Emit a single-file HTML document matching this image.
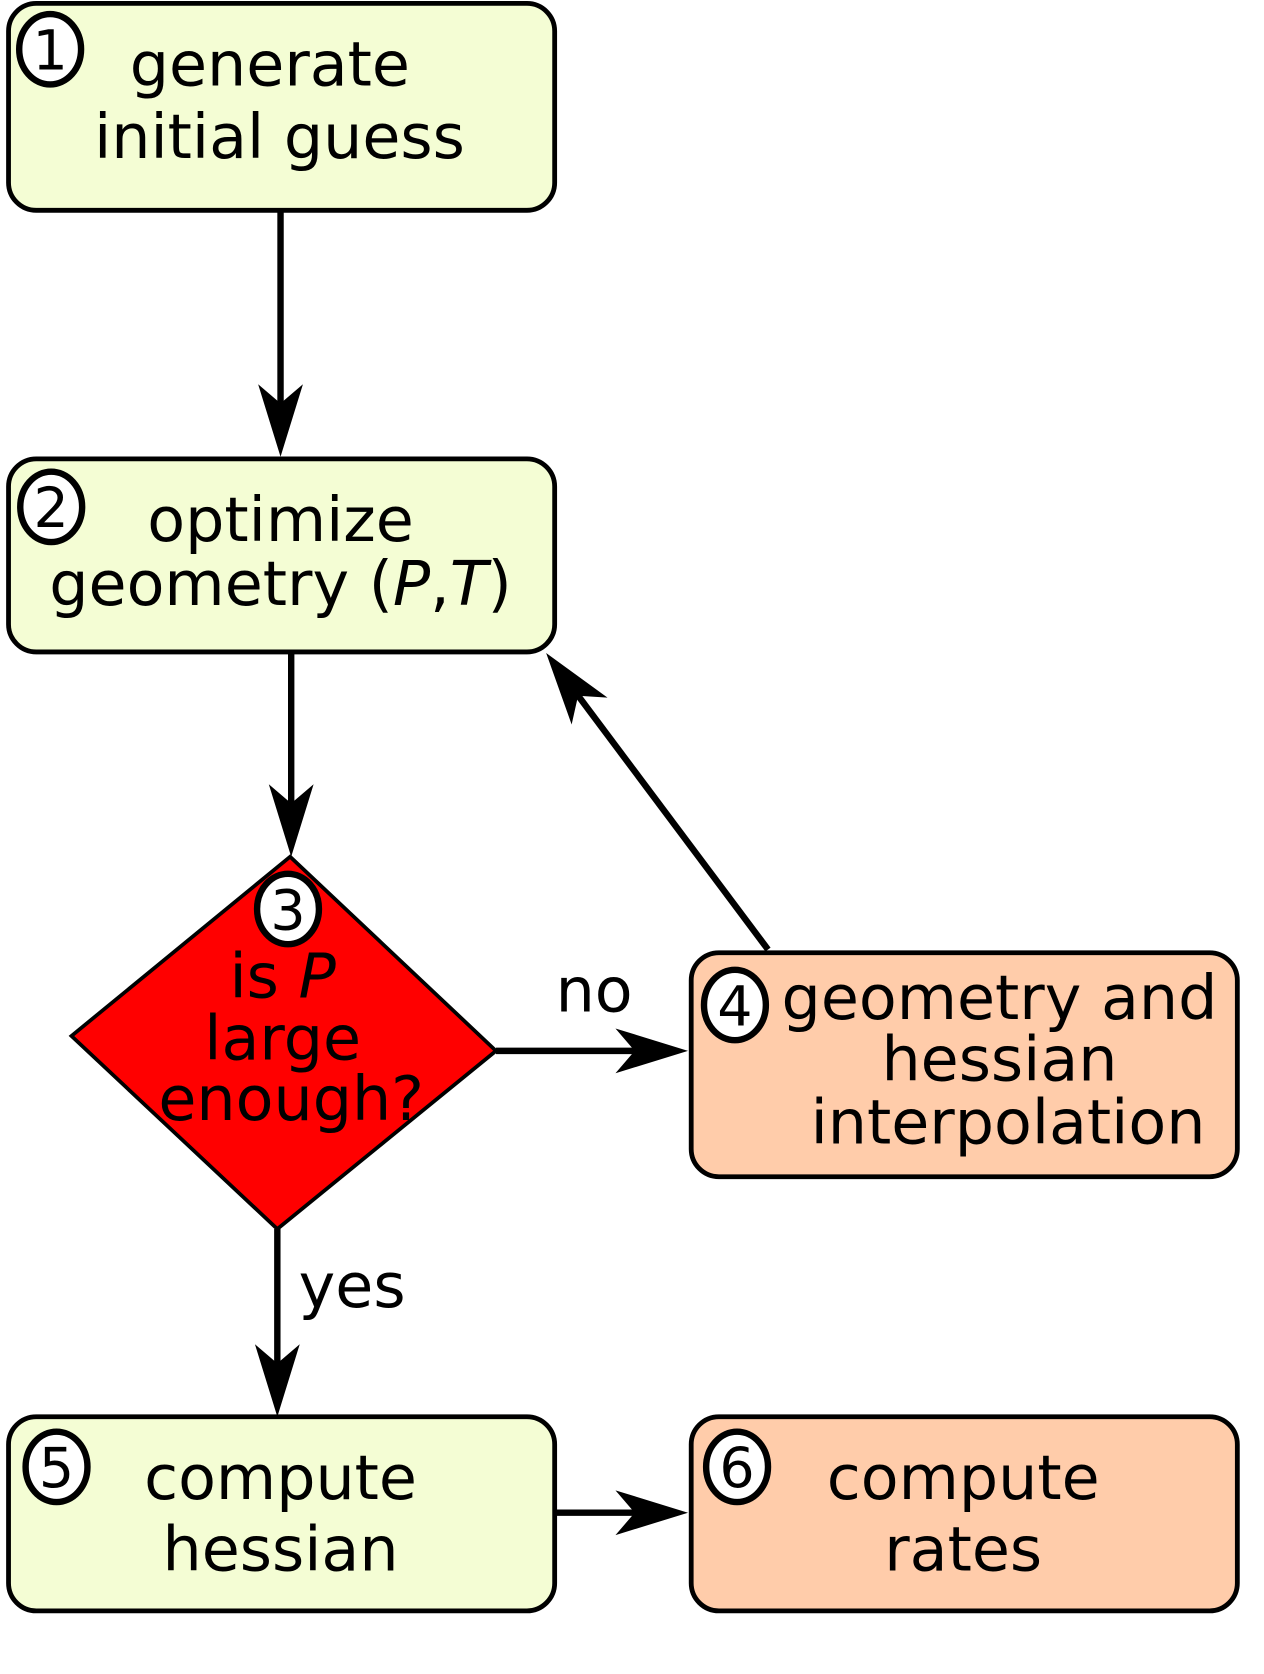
<!DOCTYPE html>
<html><head><meta charset="utf-8"><style>
html,body{margin:0;padding:0;background:#fff;}
svg{display:block;}
text{font-family:"DejaVu Sans","Liberation Sans",sans-serif;fill:#000;}
</style></head><body>
<svg width="1264" height="1674" viewBox="0 0 1185 1569" xmlns="http://www.w3.org/2000/svg">
<defs>
<path id="ah" d="M0,0 L-68,-21 L-50,0 L-68,21 Z" fill="#000"/>
</defs>
<g stroke="#000" stroke-width="6" fill="none">
<line x1="263" y1="197" x2="263" y2="390"/>
<line x1="273" y1="611" x2="273" y2="770"/>
<line x1="465" y1="985" x2="610" y2="985"/>
<line x1="720" y1="890" x2="530" y2="636"/>
<line x1="260" y1="1152" x2="260" y2="1290"/>
<line x1="520" y1="1418" x2="610" y2="1418"/>
</g>
<use href="#ah" transform="translate(263,428) rotate(90)"/>
<use href="#ah" transform="translate(273,803) rotate(90)"/>
<use href="#ah" transform="translate(645,985)"/>
<use href="#ah" transform="translate(512,612) rotate(233.2)"/>
<use href="#ah" transform="translate(260,1328) rotate(90)"/>
<use href="#ah" transform="translate(645,1418)"/>
<g stroke="#000" stroke-width="4.5">
<rect x="8" y="3" width="512" height="194" rx="26" fill="#f4fdd4"/>
<rect x="8" y="430" width="512" height="181" rx="26" fill="#f4fdd4"/>
<rect x="648" y="893" width="512" height="210" rx="26" fill="#ffccaa"/>
<rect x="8" y="1328" width="512" height="182" rx="26" fill="#f4fdd4"/>
<rect x="648" y="1328" width="512" height="182" rx="26" fill="#ffccaa"/>
<polygon points="272,803 465,985 260,1152 67,971" fill="#ff0000" stroke-width="3.5"/>
</g>
<g stroke="#000" stroke-width="6" fill="#fff">
<ellipse cx="47" cy="46" rx="29" ry="33"/>
<ellipse cx="48" cy="475" rx="29" ry="33"/>
<ellipse cx="270" cy="852" rx="29" ry="33"/>
<ellipse cx="689" cy="942" rx="29" ry="33"/>
<ellipse cx="53" cy="1375" rx="29" ry="33"/>
<ellipse cx="691" cy="1375" rx="29" ry="33"/>
</g>
<g font-size="52" text-anchor="middle">
<text x="47" y="65">1</text>
<text x="48" y="494">2</text>
<text x="270" y="871">3</text>
<text x="689" y="961">4</text>
<text x="53" y="1394">5</text>
<text x="691" y="1394">6</text>
</g>
<g font-size="58" text-anchor="middle">
<text x="253" y="80">generate</text>
<text x="262" y="148">initial guess</text>
<text x="263" y="507">optimize</text>
<text x="263" y="567">geometry (<tspan font-style="italic">P</tspan>,<tspan font-style="italic">T</tspan>)</text>
<text x="265" y="935">is <tspan font-style="italic">P</tspan></text>
<text x="265" y="993">large</text>
<text x="273" y="1050">enough?</text>
<text x="937" y="955">geometry and</text>
<text x="937" y="1013">hessian</text>
<text x="945" y="1072">interpolation</text>
<text x="263" y="1405">compute</text>
<text x="263" y="1472">hessian</text>
<text x="903" y="1405">compute</text>
<text x="903" y="1472">rates</text>
<text x="557" y="948">no</text>
<text x="280" y="1225" text-anchor="start">yes</text>
</g>
</svg>
</body></html>
